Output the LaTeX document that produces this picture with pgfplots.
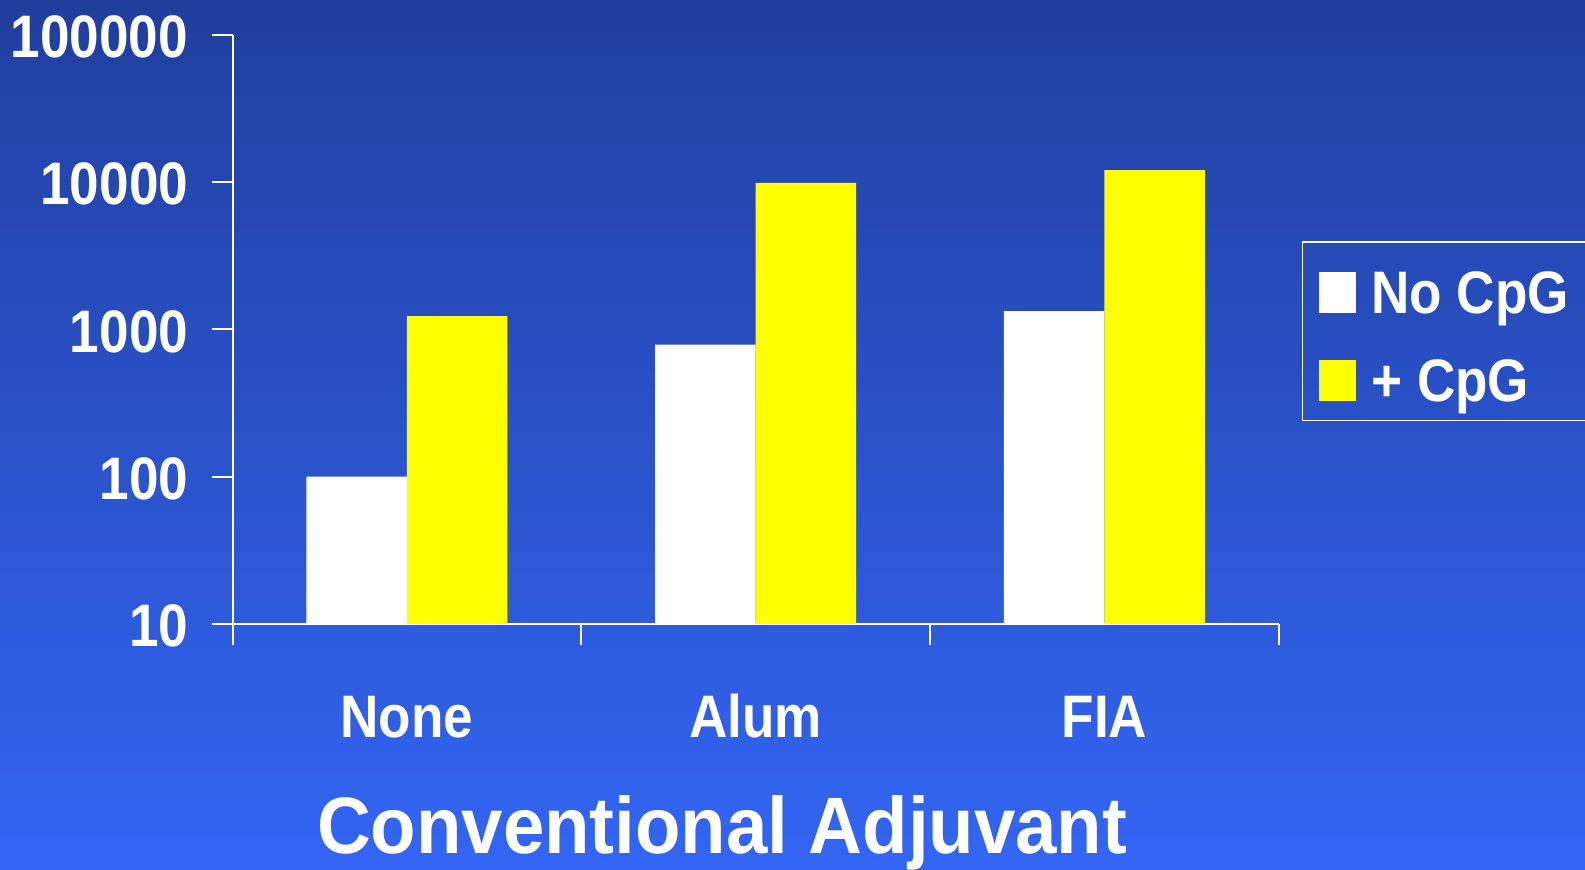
\documentclass[border=0pt]{standalone}
\usepackage{pgfplots}
\pgfplotsset{compat=1.18}
\usepackage{fontspec}
\setmainfont{Liberation Sans}[FakeStretch=0.885]
\newfontfamily\titlefont{Liberation Sans}[FakeStretch=0.93]
\newcommand\lab{\fontsize{30pt}{36pt}\selectfont\bfseries}
\newcommand\ttl{\titlefont\fontsize{40pt}{48pt}\selectfont\bfseries}
\definecolor{bgtop}{RGB}{32,62,158}
\definecolor{bgbot}{RGB}{51,102,244}
\definecolor{baryellow}{RGB}{255,255,0}

\begin{document}
\begin{tikzpicture}
% slide background
\shade[top color=bgtop, bottom color=bgbot] (0,0) rectangle (792.5pt,435pt);
\begin{axis}[
  at={(116.25pt,123pt)}, anchor=south west,
  scale only axis, width=523.1pt, height=294.5pt,
  ymode=log, ymin=10, ymax=100000, log origin=infty,
  xmin=0.5, xmax=3.5,
  axis x line*=bottom, axis y line*=left,
  axis line style={white, line width=1pt},
  tick align=outside,
  major tick length=10pt, minor tick length=10.5pt,
  ytick={10,100,1000,10000,100000},
  yticklabels={10,100,1000,10000,100000},
  yminorticks=false,
  ytick style={white, line width=1pt},
  yticklabel style={font=\lab, text=white, anchor=east, inner sep=0pt, xshift=-12pt, yshift=-1pt},
  xtick={1,2,3}, xticklabels={None,Alum,FIA},
  minor xtick={0.5,1.5,2.5,3.5},
  major x tick style={draw=none},
  minor x tick style={white, line width=1pt},
  xticklabel style={font=\lab, text=white, anchor=base, inner sep=0pt, yshift=-47pt},
  xlabel={Conventional Adjuvant},
  xlabel style={font=\ttl, text=white, anchor=base, at={(axis description cs:0.468,-0.3896)}},
  ybar=0pt, bar width=0.288,
  legend style={at={(axis description cs:1.022,0.650)}, anchor=north west,
    draw=white, line width=0.75pt, fill=none, text=white, font=\lab,
    inner xsep=8.3pt, inner ysep=9.5pt, row sep=17.7pt, column sep=7.7pt,
    nodes={inner sep=0pt, text height=20.5pt, text depth=0pt},
    cells={anchor=west}},
  legend image code/.code={%
    \fill[#1] (0pt,-10.25pt) rectangle (18.5pt,10.25pt);
    \path (0pt,16.05pt);},
]
\addplot[fill=white, draw=none] coordinates {(1,100) (2,790) (3,1330)};
\addplot[fill=baryellow, draw=none] coordinates {(1,1230) (2,9900) (3,12100)};
\legend{No CpG, + CpG}
\end{axis}
\pgfresetboundingbox
\path[use as bounding box] (0,0) rectangle (792.5pt,435pt);
\end{tikzpicture}
\end{document}
